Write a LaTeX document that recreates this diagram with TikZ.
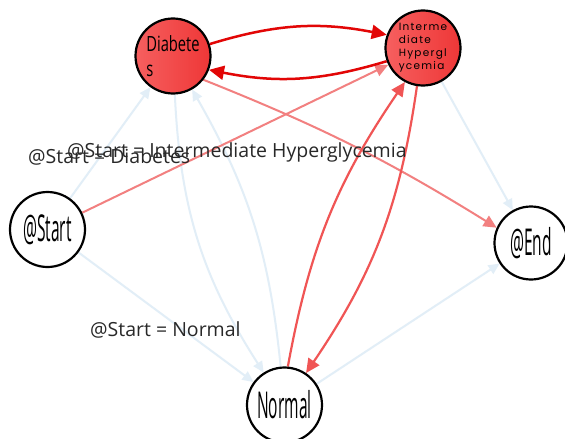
\documentclass[tikz,border=0pt]{standalone}
\usepackage{fontspec}
\setmainfont{Open Sans}
\newfontfamily\stateA[FakeStretch=0.70]{Open Sans}
\newfontfamily\stateB[FakeStretch=0.42]{Open Sans}
\newfontfamily\ihfont[LetterSpace=12]{Poppins}
\usetikzlibrary{arrows.meta,backgrounds}

\definecolor{edgedark}{RGB}{226,6,6}
\definecolor{edgemid}{RGB}{240,85,85}
\definecolor{edgelight}{RGB}{242,128,128}
\definecolor{edgefaint}{RGB}{226,238,247}
\definecolor{hotL}{RGB}{246,95,95}
\definecolor{hotR}{RGB}{238,55,55}
\definecolor{labelgray}{RGB}{40,40,40}

\begin{document}
\begin{tikzpicture}[x=1pt,y=-1pt,
  state/.style={circle,draw=black,line width=2.2pt,minimum size=75pt,inner sep=0pt},
  hotstate/.style={state,left color=hotL,right color=hotR},
  coldstate/.style={state,fill=white,font=\stateB\fontsize{37}{37}\selectfont},
  link/.style={line width=2pt},
  faint/.style={link,draw=edgefaint,-{Triangle[length=11pt,width=10pt]}},
  pale/.style={link,draw=edgelight,-{Triangle[length=13pt,width=12pt]}},
  midlink/.style={link,line width=2.2pt,draw=edgemid,-{Triangle[length=14pt,width=13pt]}},
  darklink/.style={link,line width=2.5pt,draw=edgedark,-{Triangle[length=15pt,width=14pt]}},
  flow/.style={font=\fontsize{19.5}{19.5}\selectfont,text=labelgray,inner sep=0pt,anchor=base west}]

\useasboundingbox (0,0) rectangle (565,439);

% states
\node[hotstate,font=\stateA\fontsize{21}{25}\selectfont,align=left] (D) at (173,56) {Diabete\\s};
\node[hotstate,font=\ihfont\fontsize{10.5}{13}\selectfont,align=left] (IH) at (423,48) {Interme\\diate\\Hypergl\\ycemia};
\node[coldstate] (S) at (47.5,229.5) {@Start};
\node[coldstate,minimum size=73pt] (E) at (531,243) {@End};
\node[coldstate] (N) at (284.5,405) {Normal};

% transitions, under the states
\begin{pgfonlayer}{background}
  \fill[white] (0,0) rectangle (565,439);
  % rare transitions
  \draw[faint] (S) -- (D);
  \draw[faint] (S) -- (N);
  \draw[faint] (D) to[bend right=15] (N);
  \draw[faint] (N) to[bend right=12] (D);
  \draw[faint] (IH) -- (E);
  \draw[faint] (N) -- (E);
  % occasional transitions
  \draw[pale] (S) -- (IH);
  \draw[pale] (D.-38) to[bend left=5] (E.156);
  % frequent transitions
  \draw[midlink] (N.85) to[bend left=12] (IH.242);
  \draw[midlink] (IH.261) to[bend left=13] (N.56);
  \draw[darklink] (D.18) to[bend left=14] (IH.160);
  \draw[darklink] (IH.200) to[bend left=14] (D.-21);
\end{pgfonlayer}

% start labels
\node[flow] (lD) at (28,163) {@Start = Diabetes};
\node[flow] (lIH) at (67,157) {@Start = Intermediate Hyperglycemia};
\node[flow] (lN) at (90,336) {@Start = Normal};
\end{tikzpicture}
\end{document}
